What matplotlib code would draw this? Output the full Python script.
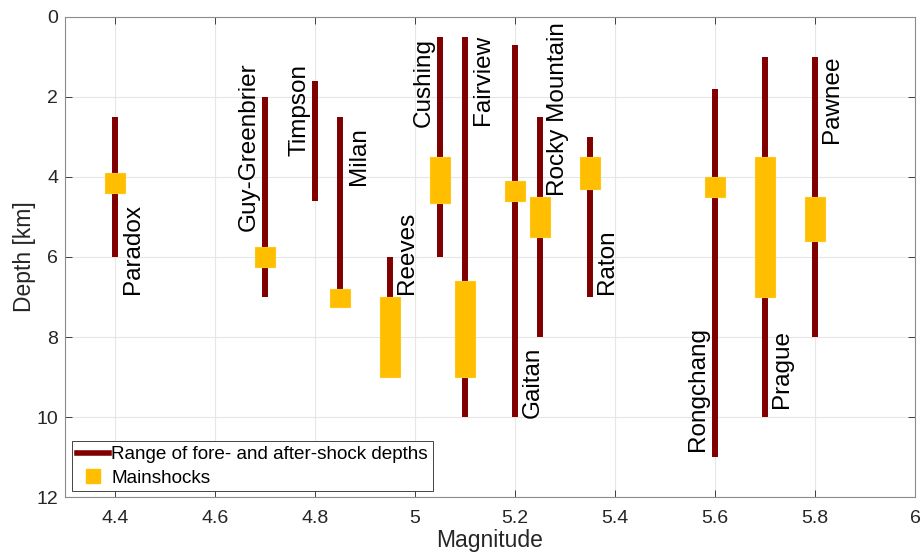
import matplotlib.pyplot as plt
from matplotlib.lines import Line2D

plt.rcParams["font.family"] = ["Liberation Sans", "DejaVu Sans"]

# sequences: magnitude, fore/after-shock depth range, mainshock depth range
names = ["Paradox", "Guy-Greenbrier", "Timpson", "Milan", "Reeves", "Cushing",
         "Fairview", "Gaitan", "Rocky Mountain", "Raton", "Rongchang",
         "Prague", "Pawnee"]
magnitude = [4.4, 4.7, 4.8, 4.85, 4.95, 5.05, 5.1, 5.2, 5.25, 5.35, 5.6, 5.7, 5.8]
range_top = [2.5, 2.0, 1.6, 2.5, 6.0, 0.5, 0.5, 0.7, 2.5, 3.0, 1.8, 1.0, 1.0]
range_bottom = [6.0, 7.0, 4.6, 7.0, 9.0, 6.0, 10.0, 10.0, 8.0, 7.0, 11.0, 10.0, 8.0]
main_top = [3.9, 5.75, None, 6.8, 7.0, 3.5, 6.6, 4.1, 4.5, 3.5, 4.0, 3.5, 4.5]
main_bottom = [4.4, 6.25, None, 7.25, 9.0, 4.65, 9.0, 4.6, 5.5, 4.3, 4.5, 7.0, 5.6]

# label anchor (left edge, start of rotated text)
label_x = [4.414, 4.646, 4.746, 4.866, 4.961, 4.996, 5.114, 5.214, 5.264,
           5.361, 5.543, 5.712, 5.812]
label_y = [6.93, 5.35, 3.475, 4.21, 6.93, 2.75, 2.7, 10.03, 4.475, 6.93,
           10.85, 9.78, 3.14]

dark_red = "#800000"
yellow = "#FFBF00"

fig = plt.figure(figsize=(9.21, 5.57), dpi=100)
ax = fig.add_axes([0.0706, 0.1077, 0.9229, 0.8618])

ax.vlines(magnitude, range_top, range_bottom, color=dark_red, linewidth=4.3,
          zorder=2)

for m, t, b in zip(magnitude, main_top, main_bottom):
    if t is None:
        continue
    ax.bar(m, b - t, bottom=t, width=0.04, color=yellow, edgecolor="#FFC61A",
           linewidth=0.8, zorder=3)

for name, lx, ly in zip(names, label_x, label_y):
    ax.text(lx, ly, name, rotation=90, ha="left", va="bottom", fontsize=17.5,
            color="black", zorder=4)

ax.set_xlim(4.3, 6)
ax.set_ylim(12, 0)
ax.set_xticks([4.4, 4.6, 4.8, 5.0, 5.2, 5.4, 5.6, 5.8, 6.0])
ax.set_xticklabels(["4.4", "4.6", "4.8", "5", "5.2", "5.4", "5.6", "5.8", "6"])
ax.set_yticks(range(0, 13, 2))
ax.tick_params(direction="in", top=True, right=True, labelsize=14,
               colors="#262626", length=5, width=0.6)
ax.tick_params(axis="x", pad=9)
ax.tick_params(axis="y", pad=5)
ax.grid(True, color="#e6e6e6", linewidth=0.8)
ax.set_axisbelow(True)
for s in ax.spines.values():
    s.set_color("#8c8c8c")
    s.set_linewidth(0.8)

ax.set_xlabel("Magnitude", fontsize=16.5, color="#262626", labelpad=2)
ax.set_ylabel("Depth [km]", fontsize=16.5, color="#262626", labelpad=0)

handles = [
    Line2D([0], [0], color=dark_red, linewidth=4),
    Line2D([0], [0], color=yellow, marker="s", linestyle="none", markersize=10),
]
leg = ax.legend(handles, ["Range of fore- and after-shock depths", "Mainshocks"],
                loc="lower left", bbox_to_anchor=(0.008, 0.012), fontsize=13.6,
                fancybox=False, edgecolor="#262626", framealpha=1,
                handlelength=1.7, handletextpad=0.15, borderpad=0.25,
                labelspacing=0.32, borderaxespad=0)
leg.get_frame().set_linewidth(0.6)

fig.savefig("out.png", dpi=100)
